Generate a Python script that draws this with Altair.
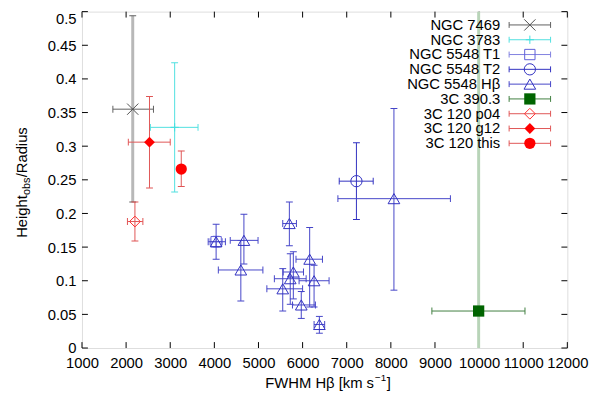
import altair as alt
import pandas as pd

# ------------------------------------------------------------------ data
series_names = ["NGC 7469", "NGC 3783", "NGC 5548 T1", "NGC 5548 T2",
                "NGC 5548 Hβ", "3C 390.3", "3C 120 p04", "3C 120 g12", "3C 120 this"]

ngc7469_fwhm = [2150]
ngc7469_fwhm_lo = [1700]
ngc7469_fwhm_hi = [2620]
ngc7469_ratio = [0.355]
ngc7469_ratio_lo = [0.217]
ngc7469_ratio_hi = [0.494]

ngc3783_fwhm = [3100]
ngc3783_fwhm_lo = [2550]
ngc3783_fwhm_hi = [3630]
ngc3783_ratio = [0.328]
ngc3783_ratio_lo = [0.232]
ngc3783_ratio_hi = [0.424]

t1_fwhm = [4040]
t1_fwhm_lo = [3900]
t1_fwhm_hi = [4180]
t1_ratio = [0.158]
t1_ratio_lo = [0.150]
t1_ratio_hi = [0.166]

t2_fwhm = [7220]
t2_fwhm_lo = [6830]
t2_fwhm_hi = [7600]
t2_ratio = [0.248]
t2_ratio_lo = [0.191]
t2_ratio_hi = [0.305]

hb_fwhm = [4040, 4670, 4600, 5700, 6160, 5790, 5720, 6260, 5550, 5970, 6380, 8070]
hb_fwhm_lo = [3860, 4360, 4090, 5550, 5850, 5560, 5360, 5920, 5190, 5770, 6260, 6800]
hb_fwhm_hi = [4250, 4990, 5100, 5860, 6450, 6020, 6080, 6600, 6000, 6290, 6500, 9350]
hb_ratio = [0.158, 0.160, 0.116, 0.185, 0.132, 0.113, 0.103, 0.100, 0.088, 0.064, 0.035, 0.222]
hb_ratio_lo = [0.132, 0.125, 0.070, 0.152, 0.061, 0.073, 0.065, 0.061, 0.055, 0.044, 0.022, 0.086]
hb_ratio_hi = [0.184, 0.199, 0.160, 0.217, 0.179, 0.143, 0.140, 0.123, 0.118, 0.084, 0.047, 0.356]

c390_fwhm = [9990]
c390_fwhm_lo = [8930]
c390_fwhm_hi = [11040]
c390_ratio = [0.055]
c390_ratio_lo = [-0.1]
c390_ratio_hi = [0.6]

p04_fwhm = [2200]
p04_fwhm_lo = [2030]
p04_fwhm_hi = [2380]
p04_ratio = [0.188]
p04_ratio_lo = [0.159]
p04_ratio_hi = [0.217]

g12_fwhm = [2530]
g12_fwhm_lo = [2050]
g12_fwhm_hi = [3000]
g12_ratio = [0.306]
g12_ratio_lo = [0.238]
g12_ratio_hi = [0.374]

this_fwhm = [3250]
this_fwhm_lo = [3250]
this_fwhm_hi = [3250]
this_ratio = [0.266]
this_ratio_lo = [0.240]
this_ratio_hi = [0.293]

x_ticks = [1000, 2000, 3000, 4000, 5000, 6000, 7000, 8000, 9000, 10000, 11000, 12000]
y_ticks = [0, 0.05, 0.1, 0.15, 0.2, 0.25, 0.3, 0.35, 0.4, 0.45, 0.5]

series_data = {
    "NGC 7469": (ngc7469_fwhm, ngc7469_fwhm_lo, ngc7469_fwhm_hi, ngc7469_ratio, ngc7469_ratio_lo, ngc7469_ratio_hi),
    "NGC 3783": (ngc3783_fwhm, ngc3783_fwhm_lo, ngc3783_fwhm_hi, ngc3783_ratio, ngc3783_ratio_lo, ngc3783_ratio_hi),
    "NGC 5548 T1": (t1_fwhm, t1_fwhm_lo, t1_fwhm_hi, t1_ratio, t1_ratio_lo, t1_ratio_hi),
    "NGC 5548 T2": (t2_fwhm, t2_fwhm_lo, t2_fwhm_hi, t2_ratio, t2_ratio_lo, t2_ratio_hi),
    "NGC 5548 Hβ": (hb_fwhm, hb_fwhm_lo, hb_fwhm_hi, hb_ratio, hb_ratio_lo, hb_ratio_hi),
    "3C 390.3": (c390_fwhm, c390_fwhm_lo, c390_fwhm_hi, c390_ratio, c390_ratio_lo, c390_ratio_hi),
    "3C 120 p04": (p04_fwhm, p04_fwhm_lo, p04_fwhm_hi, p04_ratio, p04_ratio_lo, p04_ratio_hi),
    "3C 120 g12": (g12_fwhm, g12_fwhm_lo, g12_fwhm_hi, g12_ratio, g12_ratio_lo, g12_ratio_hi),
    "3C 120 this": (this_fwhm, this_fwhm_lo, this_fwhm_hi, this_ratio, this_ratio_lo, this_ratio_hi),
}

# ------------------------------------------------------------------ styles
XPATH = "M-1,-1L1,1M-1,1L1,-1"
PLUS = "M-1,0L1,0M0,-1L0,1"
styles = {
    "NGC 7469": dict(shape=XPATH, filled=False, size=130, mc="#505050", lc="#606060", vc="#b8b8b8", vw=3),
    "NGC 3783": dict(shape=PLUS, filled=False, size=70, mc="#40e0e0", lc="#50e0e0", vc="#50e0e0", vw=1),
    "NGC 5548 T1": dict(shape="square", filled=False, size=110, mc="#6060d8", lc="#8080e0", vc="#8080e0", vw=1),
    "NGC 5548 T2": dict(shape="circle", filled=False, size=130, mc="#3030c0", lc="#3030c0", vc="#3030c0", vw=1),
    "NGC 5548 Hβ": dict(shape="triangle-up", filled=False, size=140, mc="#3030c0", lc="#4545c8", vc="#4545c8", vw=1),
    "3C 390.3": dict(shape="square", filled=True, size=130, mc="#006400", lc="#407f40", vc="#b8d4b8", vw=3),
    "3C 120 p04": dict(shape="diamond", filled=False, size=120, mc="#ff3030", lc="#e05555", vc="#e05555", vw=1),
    "3C 120 g12": dict(shape="diamond", filled=True, size=120, mc="#ff0000", lc="#e05555", vc="#e05555", vw=1),
    "3C 120 this": dict(shape="circle", filled=True, size=130, mc="#ff0000", lc="#e05555", vc="#e05555", vw=1),
}

FONT = "Liberation Sans"
W, H = 492, 341
xs = alt.Scale(domain=[1000, 12000], nice=False, zero=False)
ys = alt.Scale(domain=[0, 0.5], nice=False, zero=False)
x_axis = alt.Axis(values=x_ticks, format="d", ticks=False, domain=False, grid=False,
                  labelFontSize=15, labelFont=FONT, labelColor="black", labelPadding=8,
                  title=None, labelFlush=False)
y_axis = alt.Axis(values=y_ticks, format="~g", ticks=False, domain=False, grid=False,
                  labelFontSize=15, labelFont=FONT, labelColor="black", labelPadding=6,
                  title=None,
                  labelBaseline={"condition": {"test": "datum.value >= 0.49", "value": "top"},
                                 "value": "middle"})

def X(field):
    return alt.X(field, type="quantitative", scale=xs, axis=x_axis)

def Y(field):
    return alt.Y(field, type="quantitative", scale=ys, axis=y_axis)

layers = []

# inward ticks on all four sides
xt = pd.DataFrame({"t": x_ticks})
yt = pd.DataFrame({"t": y_ticks})
layers.append(alt.Chart(xt).mark_rule(color="black").encode(x=X("t"), y=alt.value(H), y2=alt.value(H - 6)))
layers.append(alt.Chart(xt).mark_rule(color="black").encode(x=X("t"), y=alt.value(0), y2=alt.value(6)))
layers.append(alt.Chart(yt).mark_rule(color="black").encode(y=Y("t"), x=alt.value(0), x2=alt.value(6)))
layers.append(alt.Chart(yt).mark_rule(color="black").encode(y=Y("t"), x=alt.value(W), x2=alt.value(W - 6)))

for name in series_names:
    fx, fxl, fxh, ry, ryl, ryh = series_data[name]
    st = styles[name]
    df = pd.DataFrame({"x": fx, "xlo": fxl, "xhi": fxh, "y": ry, "ylo": ryl, "yhi": ryh})
    dfx = df[df["xhi"] > df["xlo"]]
    # vertical error bar
    layers.append(alt.Chart(df).mark_rule(color=st["vc"], strokeWidth=st["vw"], clip=True)
                  .encode(x=X("x"), y=Y("ylo"), y2="yhi"))
    for end in ["ylo", "yhi"]:
        layers.append(alt.Chart(df).mark_tick(color=st["lc"], orient="horizontal", size=7,
                                             thickness=1, clip=True, opacity=1)
                      .encode(x=X("x"), y=Y(end)))
    if len(dfx):
        layers.append(alt.Chart(dfx).mark_rule(color=st["lc"], strokeWidth=1, clip=True)
                      .encode(x=X("xlo"), x2="xhi", y=Y("y")))
        for end in ["xlo", "xhi"]:
            layers.append(alt.Chart(dfx).mark_tick(color=st["lc"], orient="vertical", size=7,
                                                  thickness=1, clip=True, opacity=1)
                          .encode(x=X(end), y=Y("y")))
    layers.append(alt.Chart(df).mark_point(shape=st["shape"], filled=st["filled"], size=st["size"],
                                           color=st["mc"], strokeWidth=1, opacity=1)
                  .encode(x=X("x"), y=Y("y")))

# legend (gnuplot style: label on the left, sample on the right)
one = pd.DataFrame({"a": [0]})
for i, name in enumerate(series_names):
    st = styles[name]
    yp = 13.5 + 15 * i
    layers.append(alt.Chart(one).mark_text(text=name, align="right", baseline="middle", fontSize=15,
                                           font=FONT, color="black")
                  .encode(x=alt.value(424), y=alt.value(yp)))
    layers.append(alt.Chart(one).mark_rule(color=st["lc"], strokeWidth=1)
                  .encode(x=alt.value(433), x2=alt.value(475), y=alt.value(yp)))
    for xc in (433, 475):
        layers.append(alt.Chart(one).mark_rule(color=st["lc"], strokeWidth=1)
                      .encode(x=alt.value(xc), y=alt.value(yp - 3), y2=alt.value(yp + 3)))
    layers.append(alt.Chart(one).mark_point(shape=st["shape"], filled=st["filled"], size=st["size"],
                                            color=st["mc"], strokeWidth=1, opacity=1)
                  .encode(x=alt.value(454), y=alt.value(yp)))

# axis titles built from text pieces (sub/superscripts)
def txt(t, x, y, size=15, align="left", angle=0, baseline="middle"):
    return alt.Chart(one).mark_text(text=t, align=align, baseline=baseline, fontSize=size, font=FONT,
                                    color="black", angle=angle).encode(x=alt.value(x), y=alt.value(y))

# x title: FWHM Hβ [km s^-1]
layers.append(txt("FWHM Hβ [km s", 379 - 83, 386 - 9, align="right"))
layers.append(txt("−1", 380 - 83, 380 - 9, size=10))
layers.append(txt("]", 392 - 83, 386 - 9))
# y title: Height_obs/Radius (rotated)
layers.append(txt("Height", 22 - 83, 195 - 9, align="right", angle=270))
layers.append(txt("obs", 27 - 83, 195 - 9, size=11, align="left", angle=270))
layers.append(txt("/Radius", 22 - 83, 177 - 9, align="left", angle=270))

chart = alt.layer(*layers).properties(
    width=W, height=H,
    padding={"left": 75, "top": 1, "right": 25, "bottom": 49},
    autosize=alt.AutoSizeParams(type="none"),
).configure_view(stroke="black", strokeWidth=1).configure(background="white")

chart.save("out.html", embed_options={"renderer": "svg", "actions": False})
